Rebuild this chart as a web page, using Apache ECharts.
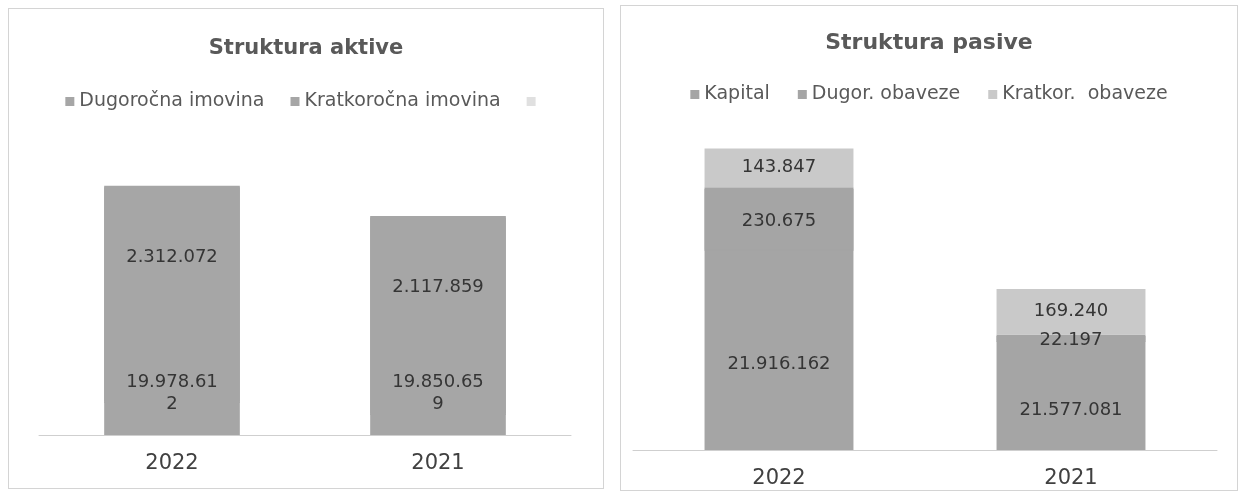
<!DOCTYPE html>
<html>
<head>
<meta charset="utf-8">
<script src="https://cdn.jsdelivr.net/npm/echarts@6/dist/echarts.min.js"></script>
<style>
  body { margin: 0; background: #ffffff; }
  .panel { position: absolute; border: 1px solid #d4d4d4; box-sizing: border-box; }
  #aktiva { left: 8px; top: 8px; width: 596px; height: 481px; }
  #pasiva { left: 620px; top: 5px; width: 618px; height: 486px; }
</style>
</head>
<body>
<div id="aktiva" class="panel"></div>
<div id="pasiva" class="panel"></div>

<script>
// godine
var years = ['2022', '2021'];

// aktiva
var dugorocnaImovina = [19978612, 19850659];
var kratkorocnaImovina = [2312072, 2117859];

// pasiva
var kapital = [21916162, 21577081];
var dugorObaveze = [230675, 22197];
var kratkorObaveze = [143847, 169240];

var fontFamily = '"DejaVu Sans", "Liberation Sans", sans-serif';

function fmt(v) {
  return String(v).replace(/\B(?=(\d{3})+(?!\d))/g, '.');
}

function barLabel(extra) {
  var l = {
    show: true,
    fontFamily: fontFamily,
    fontSize: 18,
    color: '#353535',
    formatter: function (p) { return fmt(p.value); }
  };
  for (var k in extra) l[k] = extra[k];
  return l;
}

// sjena iste boje za 1px prekriva šav prema segmentu ispod
function seamless(c) {
  return { color: c, shadowColor: c, shadowBlur: 0, shadowOffsetY: 1.5 };
}

var aktivaOption = {
  animation: false,
  title: {
    text: 'Struktura aktive',
    left: 'center',
    top: 24,
    textStyle: { fontFamily: fontFamily, fontSize: 21, fontWeight: 'bold', color: '#595959' }
  },
  legend: {
    top: 78,
    left: 'center',
    icon: 'rect',
    itemWidth: 9,
    itemHeight: 9,
    itemGap: 26,
    itemStyle: { shadowBlur: 0, shadowOffsetY: 0, shadowColor: 'transparent' },
    textStyle: { fontFamily: fontFamily, fontSize: 19, color: '#595959' },
    data: ['Dugoročna imovina', 'Kratkoročna imovina', ' ']
  },
  grid: { left: 30, right: 32, top: 148, bottom: 53 },
  xAxis: {
    type: 'category',
    data: years,
    axisTick: { show: false },
    axisLine: { lineStyle: { color: '#cfcfcf', width: 1 } },
    axisLabel: { margin: 18, fontFamily: fontFamily, fontSize: 21, color: '#404040' }
  },
  yAxis: {
    type: 'value',
    min: 19620000,
    max: 22600000,
    show: false,
    splitLine: { show: false }
  },
  series: [
    {
      name: 'Dugoročna imovina',
      type: 'bar',
      stack: 'a',
      barWidth: '51%',
      data: dugorocnaImovina,
      itemStyle: { color: '#a6a6a6' },
      label: barLabel({
        position: 'insideBottom',
        distance: 20,
        width: 92,
        overflow: 'breakAll',
        lineHeight: 22
      })
    },
    {
      name: 'Kratkoročna imovina',
      type: 'bar',
      stack: 'a',
      data: kratkorocnaImovina,
      itemStyle: seamless('#a6a6a6'),
      label: barLabel({ position: 'insideTop', distance: 62 })
    },
    {
      name: ' ',
      type: 'bar',
      stack: 'a',
      data: [],
      itemStyle: { color: '#e0e0e0' }
    }
  ]
};

var pasivaOption = {
  animation: false,
  title: {
    text: 'Struktura pasive',
    left: 'center',
    top: 21,
    textStyle: { fontFamily: fontFamily, fontSize: 22, fontWeight: 'bold', color: '#595959' }
  },
  legend: {
    top: 74,
    left: 'center',
    icon: 'rect',
    itemWidth: 9,
    itemHeight: 9,
    itemGap: 28,
    itemStyle: { shadowBlur: 0, shadowOffsetY: 0, shadowColor: 'transparent' },
    textStyle: { fontFamily: fontFamily, fontSize: 19, color: '#595959' },
    data: ['Kapital', 'Dugor. obaveze', 'Kratkor.  obaveze']
  },
  grid: { left: 12, right: 20, top: 113, bottom: 40 },
  xAxis: {
    type: 'category',
    data: years,
    axisTick: { show: false },
    axisLine: { lineStyle: { color: '#cfcfcf', width: 1 } },
    axisLabel: { margin: 18, fontFamily: fontFamily, fontSize: 21, color: '#404040' }
  },
  yAxis: {
    type: 'value',
    min: 21170000,
    max: 22400000,
    show: false,
    splitLine: { show: false }
  },
  series: [
    {
      name: 'Kapital',
      type: 'bar',
      stack: 'p',
      barWidth: '51%',
      data: kapital,
      itemStyle: { color: '#a5a5a5' },
      label: barLabel({ position: 'inside', offset: [0, 15] })
    },
    {
      name: 'Dugor. obaveze',
      type: 'bar',
      stack: 'p',
      data: dugorObaveze,
      itemStyle: seamless('#a5a5a5'),
      label: barLabel({ position: 'inside', offset: [0, 3] })
    },
    {
      name: 'Kratkor.  obaveze',
      type: 'bar',
      stack: 'p',
      data: kratkorObaveze,
      itemStyle: { color: '#c9c9c9' },
      label: barLabel({ position: 'inside' })
    }
  ]
};

var aktivaChart = echarts.init(document.getElementById('aktiva'));
aktivaChart.setOption(aktivaOption);

var pasivaChart = echarts.init(document.getElementById('pasiva'));
pasivaChart.setOption(pasivaOption);
</script>
</body>
</html>
